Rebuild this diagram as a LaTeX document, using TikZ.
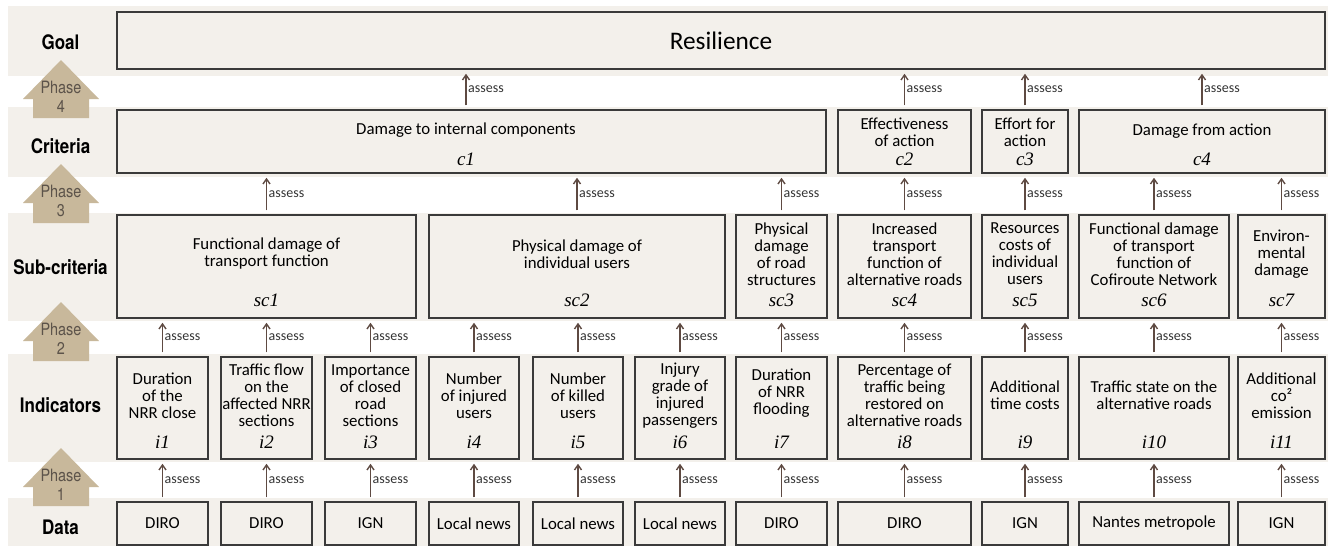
\documentclass[tikz,border=0pt]{standalone}
\usepackage{fontspec}
\setmainfont{Carlito}
\newfontfamily\levelfont[FakeStretch=0.85]{TeX Gyre Heros}
\newfontfamily\idxfont{Liberation Serif}
\usetikzlibrary{arrows.meta}

\definecolor{bandbg}{HTML}{F3F0EB}
\definecolor{boxline}{HTML}{3A3A3A}
\definecolor{arrowbrown}{HTML}{5E4A42}
\definecolor{phasetan}{HTML}{C8B89B}
\definecolor{phaseink}{HTML}{5C534A}

\tikzset{every picture/.style={line width=1.5pt}}
\tikzset{
  band/.style={fill=bandbg, draw=none},
  box/.style={draw=boxline, fill=bandbg, line width=1.5pt, inner sep=0pt, align=center,
    font=\fontsize{16.8}{17}\selectfont},
  boxtxt/.style={align=center, inner sep=0pt, font=\fontsize{16.8}{17}\selectfont},
  idx/.style={inner sep=0pt, font=\idxfont\itshape\fontsize{19}{19}\selectfont},
  level/.style={inner sep=0pt, font=\levelfont\bfseries\fontsize{20}{20}\selectfont},
  phasearrow/.style={fill=phasetan, draw=none},
  phasetxt/.style={align=center, inner sep=0pt, text=phaseink, font=\levelfont\fontsize{17}{19}\selectfont},
  assessarrow/.style={draw=arrowbrown, line width=1.4pt, -{Straight Barb[length=5pt,width=7pt]},
    shorten <=4pt, shorten >=4pt},
  assesslbl/.style={midway, right, inner sep=1.5pt, text=black!80, font=\fontsize{14}{14}\selectfont},
}

\begin{document}
\begin{tikzpicture}[x=1pt,y=1pt,yscale=-1,xscale=1]
\useasboundingbox (0,0) rectangle (1328,546);

%Bands
\fill[band] (8,6) rectangle (1328,76);
\fill[band] (8,107) rectangle (1328,177);
\fill[band] (8,213) rectangle (1328,321);
\fill[band] (8,354) rectangle (1328,462);
\fill[band] (8,498) rectangle (1328,546);

%Phase arrows
\fill[phasearrow] (61,60) -- (99,99) -- (89,99) -- (89,118) -- (33,118) -- (33,99) -- (23,99) -- cycle;
\fill[phasearrow] (61,164) -- (99,203) -- (89,203) -- (89,223) -- (33,223) -- (33,203) -- (23,203) -- cycle;
\fill[phasearrow] (61,302) -- (99,341) -- (89,341) -- (89,361) -- (33,361) -- (33,341) -- (23,341) -- cycle;
\fill[phasearrow] (61,448) -- (99,487) -- (89,487) -- (89,506) -- (33,506) -- (33,487) -- (23,487) -- cycle;
\node[phasetxt] (ph4) at (61,97) {Phase\\4};
\node[phasetxt] (ph3) at (61,201) {Phase\\3};
\node[phasetxt] (ph2) at (61,339) {Phase\\2};
\node[phasetxt] (ph1) at (61,485) {Phase\\1};

%Level names
\node[level] (lgoal) at (60.5,42) {Goal};
\node[level] (lcrit) at (60.5,146) {Criteria};
\node[level] (lsub) at (60.5,267) {Sub-criteria};
\node[level] (lind) at (60.5,405) {Indicators};
\node[level] (ldata) at (60.5,527) {Data};

%Goal
\node[box, minimum width=1208pt, minimum height=57pt, font=\fontsize{25.3}{25.3}\selectfont] (goal) at (721,40.5) {Resilience};

%Criteria
\node[box, minimum width=709pt, minimum height=63pt] (c1) at (471.5,141.5) {};
\node[box, minimum width=133pt, minimum height=63pt] (c2) at (904.5,141.5) {};
\node[box, minimum width=86pt, minimum height=63pt] (c3) at (1025,141.5) {};
\node[box, minimum width=246pt, minimum height=63pt] (c4) at (1202,141.5) {};
\node[boxtxt] (c1t) at (466,130) {Damage to internal components};
\node[boxtxt] (c2t) at (904.5,132) {Effectiveness\\of action};
\node[boxtxt] (c3t) at (1025,132) {Effort for\\action};
\node[boxtxt] (c4t) at (1202,131) {Damage from action};
\node[idx] (c1l) at (466,159) {c1};
\node[idx] (c2l) at (904.5,159) {c2};
\node[idx] (c3l) at (1025,159) {c3};
\node[idx] (c4l) at (1202,159) {c4};

%Sub-criteria
\node[box, minimum width=299pt, minimum height=103pt] (sc1) at (266.5,266.5) {};
\node[box, minimum width=296pt, minimum height=103pt] (sc2) at (577,266.5) {};
\node[box, minimum width=91pt, minimum height=103pt] (sc3) at (781.5,266.5) {};
\node[box, minimum width=133pt, minimum height=103pt] (sc4) at (904.5,266.5) {};
\node[box, minimum width=86pt, minimum height=103pt] (sc5) at (1025,266.5) {};
\node[box, minimum width=150pt, minimum height=103pt] (sc6) at (1154,266.5) {};
\node[box, minimum width=87pt, minimum height=103pt] (sc7) at (1281.5,266.5) {};
\node[boxtxt] (sc1t) at (266.5,254) {Functional damage of\\transport function};
\node[boxtxt] (sc2t) at (577,254) {Physical damage of\\individual users};
\node[boxtxt] (sc3t) at (781.5,254) {Physical\\damage\\of road\\structures};
\node[boxtxt] (sc4t) at (904.5,254) {Increased\\transport\\function of\\alternative roads};
\node[boxtxt] (sc5t) at (1025,254) {Resources\\costs of\\individual\\users};
\node[boxtxt] (sc6t) at (1154,254) {Functional damage\\of transport\\function of\\Cofiroute Network};
\node[boxtxt] (sc7t) at (1281.5,254) {Environ-\\mental\\damage};
\node[idx] (sc1l) at (266.5,300) {sc1};
\node[idx] (sc2l) at (577,300) {sc2};
\node[idx] (sc3l) at (781.5,300) {sc3};
\node[idx] (sc4l) at (904.5,300) {sc4};
\node[idx] (sc5l) at (1025,300) {sc5};
\node[idx] (sc6l) at (1154,300) {sc6};
\node[idx] (sc7l) at (1281.5,300) {sc7};

%Indicators
\node[box, minimum width=91pt, minimum height=102pt] (i1) at (162.5,408) {};
\node[box, minimum width=91pt, minimum height=102pt] (i2) at (266.5,408) {};
\node[box, minimum width=91pt, minimum height=102pt] (i3) at (370.5,408) {};
\node[box, minimum width=90pt, minimum height=102pt] (i4) at (474,408) {};
\node[box, minimum width=90pt, minimum height=102pt] (i5) at (578,408) {};
\node[box, minimum width=90pt, minimum height=102pt] (i6) at (680,408) {};
\node[box, minimum width=91pt, minimum height=102pt] (i7) at (781.5,408) {};
\node[box, minimum width=133pt, minimum height=102pt] (i8) at (904.5,408) {};
\node[box, minimum width=86pt, minimum height=102pt] (i9) at (1025,408) {};
\node[box, minimum width=150pt, minimum height=102pt] (i10) at (1154,408) {};
\node[box, minimum width=87pt, minimum height=102pt] (i11) at (1281.5,408) {};
\node[boxtxt] (i1t) at (162.5,395.5) {Duration\\of the\\NRR close};
\node[boxtxt] (i2t) at (266.5,395.5) {Traffic flow\\on the\\affected NRR\\sections};
\node[boxtxt] (i3t) at (370.5,395.5) {Importance\\of closed\\road\\sections};
\node[boxtxt] (i4t) at (474,395.5) {Number\\of injured\\users};
\node[boxtxt] (i5t) at (578,395.5) {Number\\of killed\\users};
\node[boxtxt] (i6t) at (680,395.5) {Injury\\grade of\\injured\\passengers};
\node[boxtxt] (i7t) at (781.5,393) {Duration\\of NRR\\flooding};
\node[boxtxt] (i8t) at (904.5,395.5) {Percentage of\\traffic being\\restored on\\alternative roads};
\node[boxtxt] (i9t) at (1025,395) {Additional\\time costs};
\node[boxtxt] (i10t) at (1154,395) {Traffic state on the\\alternative roads};
\node[boxtxt] (i11t) at (1281.5,395.5) {Additional\\co²\\emission};
\node[idx] (i1l) at (162.5,442) {i1};
\node[idx] (i2l) at (266.5,442) {i2};
\node[idx] (i3l) at (370.5,442) {i3};
\node[idx] (i4l) at (474,442) {i4};
\node[idx] (i5l) at (578,442) {i5};
\node[idx] (i6l) at (680,442) {i6};
\node[idx] (i7l) at (781.5,442) {i7};
\node[idx] (i8l) at (904.5,442) {i8};
\node[idx] (i9l) at (1025,442) {i9};
\node[idx] (i10l) at (1154,442) {i10};
\node[idx] (i11l) at (1281.5,442) {i11};

%Data
\node[box, minimum width=91pt, minimum height=43pt] (d1) at (162.5,523.5) {DIRO};
\node[box, minimum width=91pt, minimum height=43pt] (d2) at (266.5,523.5) {DIRO};
\node[box, minimum width=91pt, minimum height=43pt] (d3) at (370.5,523.5) {IGN};
\node[box, minimum width=90pt, minimum height=43pt] (d4) at (474,523.5) {Local news};
\node[box, minimum width=90pt, minimum height=43pt] (d5) at (578,523.5) {Local news};
\node[box, minimum width=90pt, minimum height=43pt] (d6) at (680,523.5) {Local news};
\node[box, minimum width=91pt, minimum height=43pt] (d7) at (781.5,523.5) {DIRO};
\node[box, minimum width=133pt, minimum height=43pt] (d8) at (904.5,523.5) {DIRO};
\node[box, minimum width=86pt, minimum height=43pt] (d9) at (1025,523.5) {IGN};
\node[box, minimum width=150pt, minimum height=43pt] (d10) at (1154,523.5) {Nantes metropole};
\node[box, minimum width=87pt, minimum height=43pt] (d11) at (1281.5,523.5) {IGN};

%Phase 1: data -> indicators
\draw[assessarrow] (d1.north) -- (i1.south) node[assesslbl] {assess};
\draw[assessarrow] (d2.north) -- (i2.south) node[assesslbl] {assess};
\draw[assessarrow] (d3.north) -- (i3.south) node[assesslbl] {assess};
\draw[assessarrow] (d4.north) -- (i4.south) node[assesslbl] {assess};
\draw[assessarrow] (d5.north) -- (i5.south) node[assesslbl] {assess};
\draw[assessarrow] (d6.north) -- (i6.south) node[assesslbl] {assess};
\draw[assessarrow] (d7.north) -- (i7.south) node[assesslbl] {assess};
\draw[assessarrow] (d8.north) -- (i8.south) node[assesslbl] {assess};
\draw[assessarrow] (d9.north) -- (i9.south) node[assesslbl] {assess};
\draw[assessarrow] (d10.north) -- (i10.south) node[assesslbl] {assess};
\draw[assessarrow] (d11.north) -- (i11.south) node[assesslbl] {assess};

%Phase 2: indicators -> sub-criteria
\draw[assessarrow] (i1.north) -- (i1.north |- sc1.south) node[assesslbl] {assess};
\draw[assessarrow] (i2.north) -- (i2.north |- sc1.south) node[assesslbl] {assess};
\draw[assessarrow] (i3.north) -- (i3.north |- sc1.south) node[assesslbl] {assess};
\draw[assessarrow] (i4.north) -- (i4.north |- sc2.south) node[assesslbl] {assess};
\draw[assessarrow] (i5.north) -- (i5.north |- sc2.south) node[assesslbl] {assess};
\draw[assessarrow] (i6.north) -- (i6.north |- sc2.south) node[assesslbl] {assess};
\draw[assessarrow] (i7.north) -- (sc3.south) node[assesslbl] {assess};
\draw[assessarrow] (i8.north) -- (sc4.south) node[assesslbl] {assess};
\draw[assessarrow] (i9.north) -- (sc5.south) node[assesslbl] {assess};
\draw[assessarrow] (i10.north) -- (sc6.south) node[assesslbl] {assess};
\draw[assessarrow] (i11.north) -- (sc7.south) node[assesslbl] {assess};

%Phase 3: sub-criteria -> criteria
\draw[assessarrow] (sc1.north) -- (sc1.north |- c1.south) node[assesslbl] {assess};
\draw[assessarrow] (sc2.north) -- (sc2.north |- c1.south) node[assesslbl] {assess};
\draw[assessarrow] (sc3.north) -- (sc3.north |- c1.south) node[assesslbl] {assess};
\draw[assessarrow] (sc4.north) -- (c2.south) node[assesslbl] {assess};
\draw[assessarrow] (sc5.north) -- (c3.south) node[assesslbl] {assess};
\draw[assessarrow] (sc6.north) -- (sc6.north |- c4.south) node[assesslbl] {assess};
\draw[assessarrow] (sc7.north) -- (sc7.north |- c4.south) node[assesslbl] {assess};

%Phase 4: criteria -> goal
\draw[assessarrow] (c1t.center |- c1.north) -- (c1t.center |- goal.south) node[assesslbl] {assess};
\draw[assessarrow] (c2.north) -- (c2.north |- goal.south) node[assesslbl] {assess};
\draw[assessarrow] (c3.north) -- (c3.north |- goal.south) node[assesslbl] {assess};
\draw[assessarrow] (c4.north) -- (c4.north |- goal.south) node[assesslbl] {assess};

\end{tikzpicture}
\end{document}
